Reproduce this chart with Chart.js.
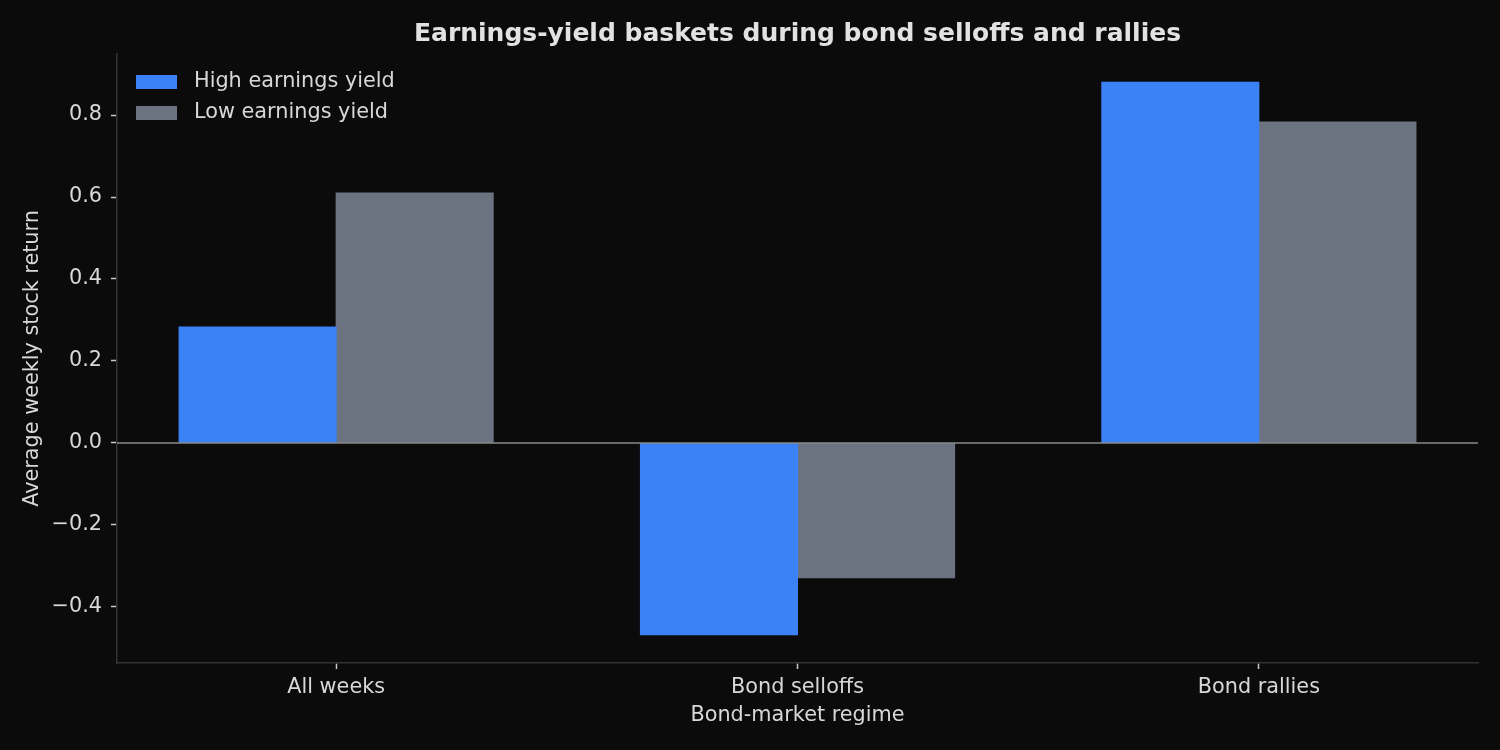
<!DOCTYPE html>
<html>
<head>
<meta charset="utf-8">
<script src="https://cdn.jsdelivr.net/npm/chart.js@4.4.1/dist/chart.umd.min.js"></script>
<style>
  html, body { margin: 0; padding: 0; background: #0b0b0b; }
  #wrap { width: 1500px; height: 750px; }
</style>
</head>
<body>
<div id="wrap"><canvas id="chart" width="1500" height="750"></canvas></div>
<script>
const regimes = ["All weeks", "Bond selloffs", "Bond rallies"];
const highYield = [0.283, -0.468, 0.880];
const lowYield = [0.610, -0.329, 0.783];
const yTicks = [-0.4, -0.2, 0.0, 0.2, 0.4, 0.6, 0.8];

const textColor = "#d8d8d8";
const fontFamily = "'DejaVu Sans', sans-serif";
const fontSize = 20.8;

// zero line drawn on top of the bars
const zeroLine = {
  id: "zeroLine",
  afterDatasetsDraw(chart) {
    const y = chart.scales.y.getPixelForValue(0);
    const area = chart.chartArea;
    const ctx = chart.ctx;
    ctx.save();
    ctx.strokeStyle = "#8a8a8a";
    ctx.lineWidth = 1.5;
    ctx.beginPath();
    ctx.moveTo(area.left, y);
    ctx.lineTo(area.right, y);
    ctx.stroke();
    ctx.restore();
  },
};

const bg = {
  id: "bg",
  beforeDraw(chart) {
    const ctx = chart.ctx;
    ctx.save();
    ctx.fillStyle = "#0b0b0b";
    ctx.fillRect(0, 0, chart.width, chart.height);
    ctx.restore();
  },
};

// legend in the upper left of the plot, matplotlib style
const innerLegend = {
  id: "innerLegend",
  afterDraw(chart) {
    const ctx = chart.ctx;
    const area = chart.chartArea;
    const x0 = area.left + 19;
    let y = area.top + 28;
    ctx.save();
    ctx.font = fontSize + "px " + fontFamily;
    ctx.textBaseline = "middle";
    chart.data.datasets.forEach((ds) => {
      ctx.fillStyle = ds.backgroundColor;
      ctx.fillRect(x0, y - 7, 41, 14);
      ctx.fillStyle = textColor;
      ctx.fillText(ds.label, x0 + 58, y);
      y += 31;
    });
    ctx.restore();
  },
};

new Chart(document.getElementById("chart"), {
  type: "bar",
  data: {
    datasets: [
      {
        label: "High earnings yield",
        data: highYield.map((v, i) => ({ x: i, y: v })),
        backgroundColor: "#3b82f6",
        borderWidth: 0,
        inflateAmount: 0.5,
      },
      {
        label: "Low earnings yield",
        data: lowYield.map((v, i) => ({ x: i, y: v })),
        backgroundColor: "#6b7280",
        borderWidth: 0,
        inflateAmount: 0.5,
      },
    ],
  },
  options: {
    responsive: false,
    animation: false,
    devicePixelRatio: 1,
    categoryPercentage: 0.681,
    barPercentage: 1.0,
    layout: { padding: { left: 0, right: 22, top: 0, bottom: 0 } },
    plugins: {
      title: {
        display: true,
        text: "Earnings-yield baskets during bond selloffs and rallies",
        color: "#e2e2e2",
        fullSize: false,
        font: { family: fontFamily, size: 25, weight: "bold" },
        padding: { top: 19, bottom: 5 },
      },
      legend: { display: false },
      tooltip: { enabled: false },
    },
    scales: {
      x: {
        type: "linear",
        min: -0.475,
        max: 2.475,
        offset: false,
        grid: {
          display: true,
          offset: false,
          drawOnChartArea: false,
          drawTicks: true,
          tickLength: 6,
          tickWidth: 1.5,
          tickColor: "#c8c8c8",
        },
        border: { color: "#333333", width: 1.5 },
        afterBuildTicks(scale) {
          scale.ticks = regimes.map((r, i) => ({ value: i }));
        },
        ticks: {
          color: textColor,
          font: { family: fontFamily, size: fontSize },
          padding: 6,
          callback: (v) => regimes[v],
        },
        title: {
          display: true,
          text: "Bond-market regime",
          color: textColor,
          font: { family: fontFamily, size: fontSize },
          padding: { top: 4, bottom: 22 },
        },
        afterFit(scale) {
          scale.height = 87;
        },
      },
      y: {
        min: -0.537,
        max: 0.949,
        grid: {
          display: true,
          drawOnChartArea: false,
          drawTicks: true,
          tickLength: 6,
          tickWidth: 1.5,
          tickColor: "#c8c8c8",
        },
        border: { color: "#333333", width: 1.5 },
        afterBuildTicks(scale) {
          scale.ticks = yTicks.map((v) => ({ value: v }));
        },
        ticks: {
          color: textColor,
          font: { family: fontFamily, size: fontSize },
          padding: 9,
          callback: (v) => (v < 0 ? "\u2212" + Math.abs(v).toFixed(1) : v.toFixed(1)),
        },
        title: {
          display: true,
          text: "Average weekly stock return",
          color: textColor,
          font: { family: fontFamily, size: fontSize },
          padding: { top: 20, bottom: 0 },
        },
        afterFit(scale) {
          scale.width = 117;
        },
      },
    },
  },
  plugins: [bg, zeroLine, innerLegend],
});
</script>
</body>
</html>
